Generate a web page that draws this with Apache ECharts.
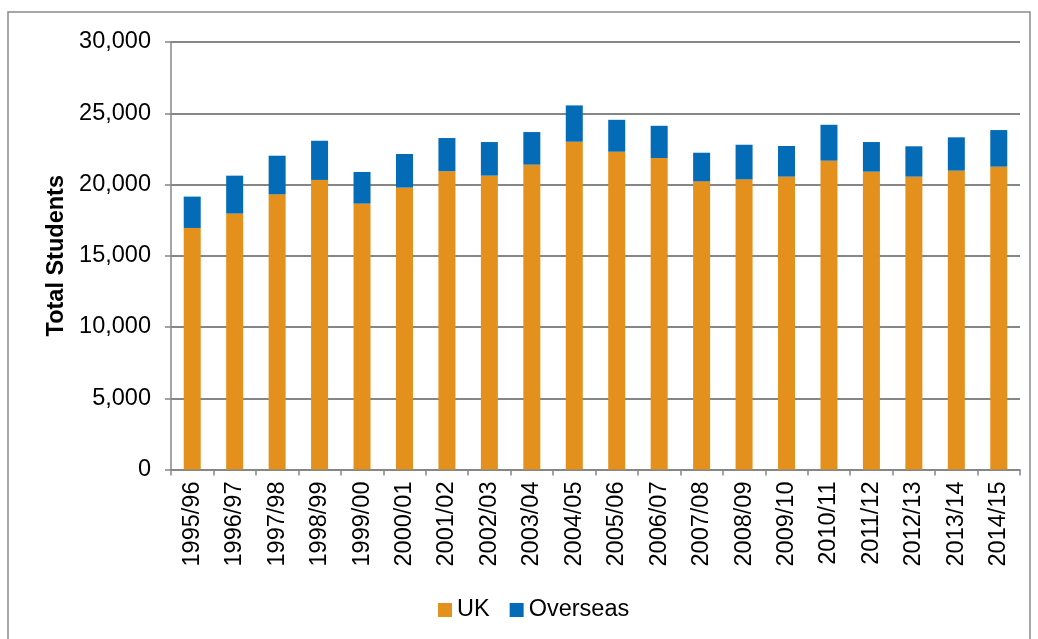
<!DOCTYPE html>
<html><head><meta charset="utf-8">
<script src="https://cdn.jsdelivr.net/npm/echarts@6/dist/echarts.min.js"></script>
<style>html,body{margin:0;padding:0;background:#fff}#c{width:1038px;height:639px}</style>
</head><body><div id="c"></div>
<script>
const categories = ['1995/96','1996/97','1997/98','1998/99','1999/00','2000/01','2001/02','2002/03','2003/04','2004/05','2005/06','2006/07','2007/08','2008/09','2009/10','2010/11','2011/12','2012/13','2013/14','2014/15'];
const ukValues = [16950,17960,19310,20320,18660,19780,20930,20620,21390,23000,22300,21860,20220,20360,20550,21670,20900,20550,20970,21250];
const totalValues = [19150,20620,22020,23070,20880,22140,23260,22980,23680,25550,24540,24120,22230,22790,22700,24190,22980,22680,23310,23820];
const overseasValues = totalValues.map((t,i)=>t-ukValues[i]);
const yTicks = {min:0,max:30000,interval:5000};

const chart = echarts.init(document.getElementById('c'));
const font = 'Liberation Sans, Arial, sans-serif';
const fs = 23.5;
chart.setOption({
  animation:false,
  textStyle:{fontFamily:font},
  graphic:[{type:'rect',shape:{x:8,y:12,width:1022,height:640},style:{fill:null,stroke:'#8a8a8a',lineWidth:1.5},silent:true}],
  grid:{left:171,top:42,right:18,bottom:169.5},
  legend:{data:['UK','Overseas'],bottom:12,left:433,itemWidth:14,itemHeight:14,itemGap:20,icon:'rect',
    textStyle:{fontSize:fs,color:'#000',fontFamily:font}},
  xAxis:{type:'category',data:categories,
    axisLine:{lineStyle:{color:'#868686',width:1.5}},
    axisTick:{show:true,length:6,lineStyle:{color:'#868686',width:1.5}},
    axisLabel:{rotate:90,fontSize:fs,color:'#000',margin:12,fontFamily:font}},
  yAxis:{type:'value',min:yTicks.min,max:yTicks.max,interval:yTicks.interval,
    name:'Total Students',nameLocation:'middle',nameGap:97,
    nameTextStyle:{fontSize:fs,fontWeight:'bold',color:'#000',fontFamily:font},
    axisLine:{show:true,lineStyle:{color:'#868686',width:1.5}},
    axisTick:{show:true,length:6,lineStyle:{color:'#868686',width:1.5}},
    splitLine:{lineStyle:{color:'#868686',width:2}},
    axisLabel:{fontSize:fs,color:'#000',margin:20,fontFamily:font,
      formatter:v=>v.toLocaleString('en-US')}},
  series:[
    {name:'UK',type:'bar',stack:'s',data:ukValues,barWidth:17,itemStyle:{color:'#E4901C'}},
    {name:'Overseas',type:'bar',stack:'s',data:overseasValues,barWidth:17,itemStyle:{color:'#046BB7'}}
  ]
});
</script></body></html>
